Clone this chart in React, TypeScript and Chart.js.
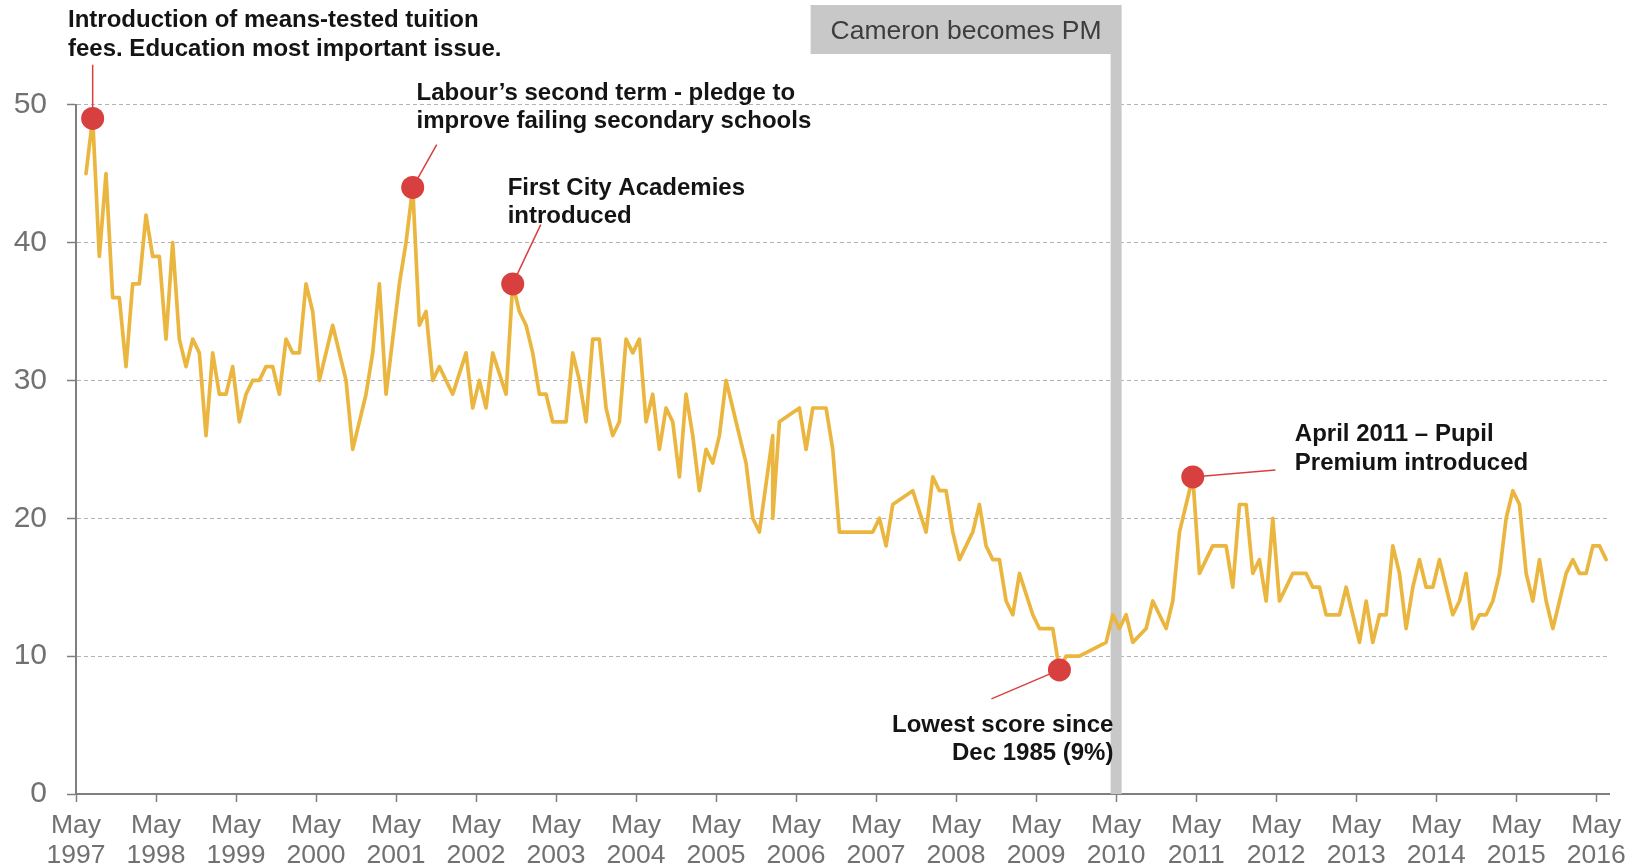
import React, { useEffect, useRef } from 'react';
import { Chart, registerables } from 'chart.js';

Chart.register(...registerables);

// Months counted from May 1997 (0 = May 1997). First survey shown: June 1997.
const FIRST_MONTH = 1;
const AXIS_MONTHS = 230; // May 1997 .. June 2016

// Monthly "education" score (%), June 1997 .. June 2016; null = no survey that month
const educationScores: (number | null)[] = [
  45, 49, 39, 45, 36, 36, 31, 37, 37, 42, 39, 39,
  33, 40, 33, 31, 33, 32, 26, 32, 29, 29, 31, 27,
  29, 30, 30, 31, 31, 29, 33, 32, 32, 37, 35, 30,
  null, 34, null, 30, 25, null, 29, 32, 37, 29, 33, 37,
  40, 44, 34, 35, 30, 31, null, 29, null, 32, 28, 30,
  28, 32, null, 29, 37, 35, 34, 32, 29, 29, 27, 27,
  27, 32, 30, 27, 33, 33, 28, 26, 27, 33, 32, 33,
  27, 29, 25, 28, 27, 23, 29, 26, 22, 25, 24, 26,
  30, 28, 26, 24, 20, 19, null, 26, 27, null, null, 28,
  25, 28, 28, 28, 25, 19, 19, 19, 19, 19, 19, 20,
  18, 21, null, null, 22, null, 19, 23, 22, 22, 19, 17,
  18, 19, 21, 18, 17, 17, 14, 13, 16, null, 13, 12,
  12, 12, 9, 10, 10, 10, null, null, null, 11, 13, 12,
  13, 11, null, 12, 14, 13, 12, 14, 19, 21, 23, 16,
  17, 18, 18, 18, 15, 21, 21, 16, 17, 14, 20, 14,
  15, 16, 16, 16, 15, 15, 13, 13, 13, 15, 13, 11,
  14, 11, 13, 13, 18, 16, 12, 15, 17, 15, 15, 17,
  15, 13, 14, 16, 12, 13, 13, 14, 16, 20, 22, 21,
  16, 14, 17, 14, 12, 14, 16, 17, 16, 16, 18, 18,
  17,
];

// A second survey in the same month
const extraPollMonths = [104];
const extraPollScores = [20];

const tickMonthName = 'May';
const tickYears = [
  1997, 1998, 1999, 2000, 2001, 2002, 2003, 2004, 2005, 2006,
  2007, 2008, 2009, 2010, 2011, 2012, 2013, 2014, 2015, 2016,
];
const yTickValues = [0, 10, 20, 30, 40, 50];

const highlightMonths = [2, 50, 65, 147, 167];
const noteTexts: string[][] = [
  ['Introduction of means-tested tuition', 'fees. Education most important issue.'],
  ['Labour\u2019s second term - pledge to', 'improve failing secondary schools'],
  ['First City Academies', 'introduced'],
  ['Lowest score since', 'Dec 1985 (9%)'],
  ['April 2011 \u2013 Pupil', 'Premium introduced'],
];

const cameronMonth = 156;
const cameronLabel = 'Cameron becomes PM';

// ---- presentation (anchors in data units) ----
const notePlacement = [
  { month: -1.2, value: 56.1, align: 'left', endMonth: 2.5, endValue: 52.9 },
  { month: 51.07, value: 50.85, align: 'left', endMonth: 54.1, endValue: 47.1 },
  { month: 64.74, value: 43.95, align: 'left', endMonth: 69.7, endValue: 41.3 },
  { month: 155.6, value: 5.0, align: 'right', endMonth: 137.3, endValue: 6.9 },
  { month: 182.8, value: 26.05, align: 'left', endMonth: 179.9, endValue: 23.5 },
];

const FONT = '"Liberation Sans", Arial, Helvetica, sans-serif';
const LINE_COLOR = '#ebb63f';
const RED = '#d8403f';
const AXIS_GREY = '#7f7f7f';
const LABEL_GREY = '#717171';
const BAND_GREY = '#c8c8c8';

const scoreAt = (m: number) => educationScores[m - FIRST_MONTH];

function buildLinePoints() {
  const pts: { x: number; y: number | null }[] = [];
  educationScores.forEach((s, i) => {
    const m = FIRST_MONTH + i;
    pts.push({ x: m + 0.5, y: s });
    extraPollMonths.forEach((em, j) => {
      if (em === m) pts.push({ x: m + 0.5, y: extraPollScores[j] });
    });
  });
  return pts;
}

const overlayPlugin = {
  id: 'overlay',
  beforeDatasetsDraw(chart: any) {
    const { ctx, chartArea } = chart;
    const xs = chart.scales.x;
    const ys = chart.scales.y;
    const cx = xs.getPixelForValue(cameronMonth);
    const bandW = 11;
    const boxTop = 5;
    const boxH = 49;
    const boxW = 311;
    ctx.save();
    ctx.fillStyle = BAND_GREY;
    ctx.fillRect(cx - bandW / 2, boxTop + boxH, bandW, chartArea.bottom - (boxTop + boxH));
    ctx.fillRect(cx + bandW / 2 - boxW, boxTop, boxW, boxH);
    ctx.fillStyle = '#3d3d3d';
    ctx.font = `26.5px ${FONT}`;
    ctx.textAlign = 'center';
    ctx.textBaseline = 'middle';
    ctx.fillText(cameronLabel, cx + bandW / 2 - boxW / 2, boxTop + boxH / 2 + 2);

    ctx.strokeStyle = RED;
    ctx.lineWidth = 1.5;
    highlightMonths.forEach((m, i) => {
      const p = notePlacement[i];
      const v = scoreAt(m) as number;
      ctx.beginPath();
      ctx.moveTo(xs.getPixelForValue(m + 0.5), ys.getPixelForValue(v));
      ctx.lineTo(xs.getPixelForValue(p.endMonth), ys.getPixelForValue(p.endValue));
      ctx.stroke();
    });
    ctx.restore();
  },
  afterDatasetsDraw(chart: any) {
    const { ctx } = chart;
    const xs = chart.scales.x;
    const ys = chart.scales.y;
    ctx.save();
    ctx.fillStyle = '#141414';
    ctx.font = `bold 24px ${FONT}`;
    ctx.textBaseline = 'middle';
    const lineGap = 28.5;
    noteTexts.forEach((lines, i) => {
      const p = notePlacement[i];
      ctx.textAlign = p.align;
      const x = xs.getPixelForValue(p.month);
      const y = ys.getPixelForValue(p.value);
      lines.forEach((t, j) => ctx.fillText(t, x, y + j * lineGap));
    });
    ctx.restore();
  },
};

export default function App() {
  const canvasRef = useRef<HTMLCanvasElement | null>(null);

  useEffect(() => {
    document.body.style.margin = '0';
    document.body.style.background = '#ffffff';
    const canvas = canvasRef.current;
    if (!canvas) return;
    Chart.defaults.font.family = FONT;

    const highlightPoints = highlightMonths.map((m) => ({ x: m + 0.5, y: scoreAt(m) }));

    const chart = new Chart(canvas, {
      type: 'line',
      data: {
        datasets: [
          {
            label: 'Highlights',
            data: highlightPoints as any,
            showLine: false,
            pointRadius: 11.5,
            pointHoverRadius: 11.5,
            pointBackgroundColor: RED,
            pointBorderWidth: 0,
            order: 0,
            clip: false as any,
          },
          {
            label: 'Education',
            data: buildLinePoints() as any,
            borderColor: LINE_COLOR,
            borderWidth: 3.7,
            pointRadius: 0,
            tension: 0,
            spanGaps: true,
            borderJoinStyle: 'round',
            borderCapStyle: 'round',
            order: 1,
            clip: false as any,
          },
        ],
      },
      options: {
        animation: false,
        responsive: false,
        maintainAspectRatio: false,
        events: [],
        layout: { padding: { top: 104.7, right: 31.5, left: 0, bottom: 0 } },
        plugins: { legend: { display: false }, tooltip: { enabled: false } },
        scales: {
          x: {
            type: 'linear',
            min: 0,
            max: AXIS_MONTHS,
            afterBuildTicks: (s: any) => {
              s.ticks = tickYears.map((_, i) => ({ value: i * 12 }));
            },
            afterFit: (s: any) => {
              s.height = 74;
            },
            ticks: {
              autoSkip: false,
              maxRotation: 0,
              minRotation: 0,
              padding: 9,
              color: LABEL_GREY,
              font: { size: 26.5, lineHeight: 1.12 },
              callback: (v: any) => [tickMonthName, String(tickYears[Math.round(Number(v) / 12)])],
            },
            grid: {
              drawOnChartArea: false,
              drawTicks: true,
              tickLength: 8,
              tickColor: AXIS_GREY,
              tickWidth: 1.5,
            },
            border: { color: AXIS_GREY, width: 2 },
          },
          y: {
            type: 'linear',
            min: 0,
            max: 50,
            afterBuildTicks: (s: any) => {
              s.ticks = yTickValues.map((v) => ({ value: v }));
            },
            afterFit: (s: any) => {
              s.width = 76;
            },
            ticks: {
              padding: 20,
              color: LABEL_GREY,
              font: { size: 30 },
            },
            grid: {
              color: '#b3b3b3',
              lineWidth: 1,
              drawTicks: true,
              tickLength: 9,
              tickColor: AXIS_GREY,
              tickWidth: 1.5,
              tickBorderDash: [],
            } as any,
            border: { color: AXIS_GREY, width: 2, dash: [4, 3] } as any,
          },
        },
      },
      plugins: [overlayPlugin as any],
    });
    return () => chart.destroy();
  }, []);

  return (
    <div style={{ position: 'absolute', left: 0, top: 0, width: 1641, height: 868, background: '#fff' }}>
      <canvas ref={canvasRef} width={1641} height={868} />
    </div>
  );
}
